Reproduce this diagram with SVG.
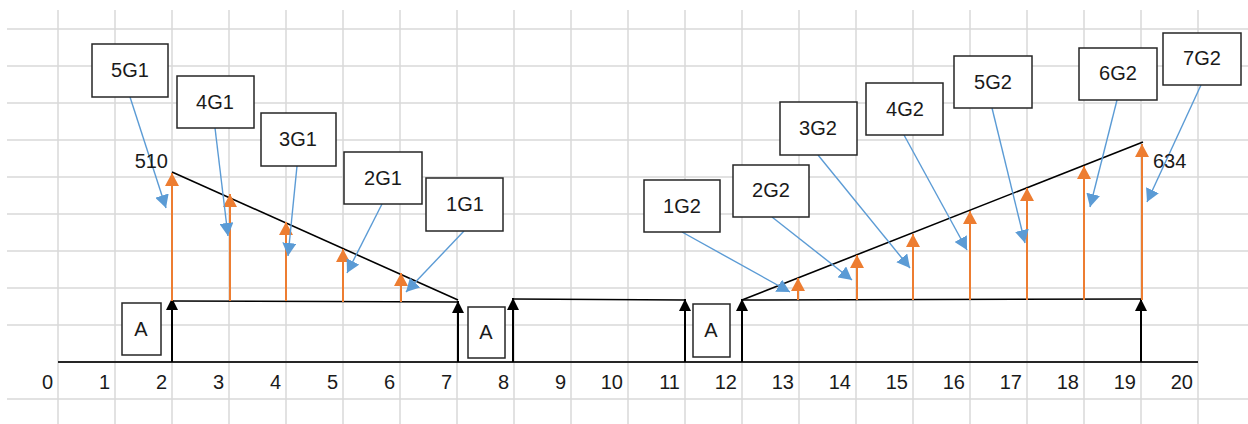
<svg xmlns="http://www.w3.org/2000/svg" width="1248" height="424" viewBox="0 0 1248 424">
<style>
.grid line{stroke:#d9d9d9;stroke-width:1.5}
.box{fill:#fff;stroke:#262626;stroke-width:1.5}
.t{font-family:"Liberation Sans",Arial,sans-serif;font-size:20px;fill:#1a1a1a;text-anchor:middle}
.ax{font-family:"Liberation Sans",Arial,sans-serif;font-size:20px;fill:#1a1a1a;text-anchor:end}
.blk{stroke:#000;stroke-width:1.6;fill:none}
.org{stroke:#ed7d31;stroke-width:2;fill:none;marker-end:url(#ao)}
.blu{stroke:#5b9bd5;stroke-width:1.4;fill:none;marker-end:url(#ab)}
.bar{stroke:#000;stroke-width:2;fill:none;marker-end:url(#ak)}
</style>
<defs>
<marker id="ao" markerUnits="userSpaceOnUse" markerWidth="14" markerHeight="14" refX="13" refY="7" orient="auto" viewBox="0 0 14 14"><path d="M0,0 L13,7 L0,14 z" fill="#ed7d31"/></marker>
<marker id="ab" markerUnits="userSpaceOnUse" markerWidth="14" markerHeight="14" refX="13" refY="7" orient="auto" viewBox="0 0 14 14"><path d="M0,0 L13,7 L0,14 z" fill="#5b9bd5"/></marker>
<marker id="ak" markerUnits="userSpaceOnUse" markerWidth="13" markerHeight="12" refX="12" refY="6" orient="auto" viewBox="0 0 13 12"><path d="M0,0 L12,6 L0,12 z" fill="#000"/></marker>
</defs>
<rect width="1248" height="424" fill="#fff"/>
<g class="grid">
<line x1="7" y1="29" x2="1248" y2="29"/><line x1="7" y1="66" x2="1248" y2="66"/><line x1="7" y1="103" x2="1248" y2="103"/><line x1="7" y1="140" x2="1248" y2="140"/><line x1="7" y1="177" x2="1248" y2="177"/><line x1="7" y1="214" x2="1248" y2="214"/><line x1="7" y1="251" x2="1248" y2="251"/><line x1="7" y1="288" x2="1248" y2="288"/><line x1="7" y1="325" x2="1248" y2="325"/><line x1="7" y1="399" x2="1248" y2="399"/>
<line x1="58" y1="10" x2="58" y2="424"/><line x1="115" y1="10" x2="115" y2="424"/><line x1="172" y1="10" x2="172" y2="424"/><line x1="229" y1="10" x2="229" y2="424"/><line x1="286" y1="10" x2="286" y2="424"/><line x1="343" y1="10" x2="343" y2="424"/><line x1="400" y1="10" x2="400" y2="424"/><line x1="457" y1="10" x2="457" y2="424"/><line x1="514" y1="10" x2="514" y2="424"/><line x1="571" y1="10" x2="571" y2="424"/><line x1="628" y1="10" x2="628" y2="424"/><line x1="685" y1="10" x2="685" y2="424"/><line x1="742" y1="10" x2="742" y2="424"/><line x1="799" y1="10" x2="799" y2="424"/><line x1="856" y1="10" x2="856" y2="424"/><line x1="913" y1="10" x2="913" y2="424"/><line x1="970" y1="10" x2="970" y2="424"/><line x1="1027" y1="10" x2="1027" y2="424"/><line x1="1084" y1="10" x2="1084" y2="424"/><line x1="1141" y1="10" x2="1141" y2="424"/><line x1="1198" y1="10" x2="1198" y2="424"/>
</g>
<g id="axis">
<line x1="58" y1="362" x2="1198" y2="362" stroke="#262626" stroke-width="2"/>
<text class="ax" x="53" y="389">0</text><text class="ax" x="110" y="389">1</text><text class="ax" x="167" y="389">2</text><text class="ax" x="224" y="389">3</text><text class="ax" x="281" y="389">4</text><text class="ax" x="338" y="389">5</text><text class="ax" x="395" y="389">6</text><text class="ax" x="452" y="389">7</text><text class="ax" x="509" y="389">8</text><text class="ax" x="566" y="389">9</text><text class="ax" x="623" y="389">10</text><text class="ax" x="680" y="389">11</text><text class="ax" x="737" y="389">12</text><text class="ax" x="794" y="389">13</text><text class="ax" x="851" y="389">14</text><text class="ax" x="908" y="389">15</text><text class="ax" x="965" y="389">16</text><text class="ax" x="1022" y="389">17</text><text class="ax" x="1079" y="389">18</text><text class="ax" x="1136" y="389">19</text><text class="ax" x="1193" y="389">20</text>
</g>
<g id="connectors">
<line class="blk" x1="172" y1="301" x2="458" y2="302"/>
<line class="blk" x1="172" y1="172" x2="458" y2="300"/>
<line class="blk" x1="513" y1="299" x2="685" y2="300"/>
<line class="blk" x1="742" y1="300" x2="1141" y2="299"/>
<line class="blk" x1="742" y1="300" x2="1143" y2="142"/>
<line class="bar" x1="172" y1="362" x2="172" y2="298"/>
<line class="bar" x1="458" y1="362" x2="458" y2="301"/>
<line class="bar" x1="513" y1="362" x2="513" y2="298"/>
<line class="bar" x1="685" y1="362" x2="685" y2="299"/>
<line class="bar" x1="742" y1="362" x2="742" y2="299"/>
<line class="bar" x1="1141" y1="362" x2="1141" y2="299"/>
<line class="org" x1="172" y1="301" x2="172" y2="173"/>
<line class="org" x1="230" y1="301" x2="230" y2="194"/>
<line class="org" x1="286" y1="301" x2="286" y2="222"/>
<line class="org" x1="343" y1="302" x2="343" y2="249"/>
<line class="org" x1="401" y1="302" x2="401" y2="273"/>
<line class="org" x1="798" y1="300" x2="798" y2="278"/>
<line class="org" x1="857" y1="300" x2="857" y2="255"/>
<line class="org" x1="913" y1="300" x2="913" y2="234"/>
<line class="org" x1="970" y1="300" x2="970" y2="211"/>
<line class="org" x1="1027" y1="300" x2="1027" y2="188"/>
<line class="org" x1="1084" y1="300" x2="1084" y2="166"/>
<line class="org" x1="1142" y1="300" x2="1142" y2="144"/>
<line class="blu" x1="130" y1="97" x2="166" y2="208"/>
<line class="blu" x1="215" y1="128" x2="228" y2="236"/>
<line class="blu" x1="297" y1="166" x2="288" y2="256"/>
<line class="blu" x1="382" y1="204" x2="347" y2="273"/>
<line class="blu" x1="464" y1="231" x2="406" y2="292"/>
<line class="blu" x1="682" y1="232" x2="790" y2="292"/>
<line class="blu" x1="772" y1="217" x2="852" y2="280"/>
<line class="blu" x1="818" y1="155" x2="910" y2="268"/>
<line class="blu" x1="904" y1="135" x2="967" y2="250"/>
<line class="blu" x1="992" y1="108" x2="1025" y2="243"/>
<line class="blu" x1="1117" y1="100" x2="1090" y2="207"/>
<line class="blu" x1="1201" y1="85" x2="1147" y2="202"/>
</g>
<g id="v510"><text class="t" x="168" y="168" style="text-anchor:end">510</text></g>
<g id="v634"><text class="t" x="1153" y="168" style="text-anchor:start">634</text></g>
<g id="n5G1"><rect class="box" x="92" y="44" width="76" height="53"/><text class="t" x="130" y="77">5G1</text></g>
<g id="n4G1"><rect class="box" x="177" y="76" width="77" height="52"/><text class="t" x="215" y="109">4G1</text></g>
<g id="n3G1"><rect class="box" x="261" y="113" width="75" height="53"/><text class="t" x="298" y="146">3G1</text></g>
<g id="n2G1"><rect class="box" x="344" y="152" width="78" height="52"/><text class="t" x="383" y="185">2G1</text></g>
<g id="n1G1"><rect class="box" x="426" y="178" width="77" height="53"/><text class="t" x="465" y="211">1G1</text></g>
<g id="nA1"><rect class="box" x="122" y="303" width="39" height="52"/><text class="t" x="141" y="336">A</text></g>
<g id="nA2"><rect class="box" x="468" y="307" width="37" height="51"/><text class="t" x="486" y="339">A</text></g>
<g id="nA3"><rect class="box" x="693" y="304" width="37" height="53"/><text class="t" x="711" y="337">A</text></g>
<g id="n1G2"><rect class="box" x="644" y="180" width="76" height="52"/><text class="t" x="682" y="213">1G2</text></g>
<g id="n2G2"><rect class="box" x="733" y="165" width="76" height="52"/><text class="t" x="771" y="197">2G2</text></g>
<g id="n3G2"><rect class="box" x="780" y="102" width="77" height="53"/><text class="t" x="818" y="135">3G2</text></g>
<g id="n4G2"><rect class="box" x="866" y="83" width="77" height="52"/><text class="t" x="905" y="116">4G2</text></g>
<g id="n5G2"><rect class="box" x="954" y="56" width="78" height="52"/><text class="t" x="993" y="89">5G2</text></g>
<g id="n6G2"><rect class="box" x="1079" y="48" width="78" height="52"/><text class="t" x="1118" y="80">6G2</text></g>
<g id="n7G2"><rect class="box" x="1163" y="33" width="78" height="52"/><text class="t" x="1202" y="65">7G2</text></g>
</svg>
